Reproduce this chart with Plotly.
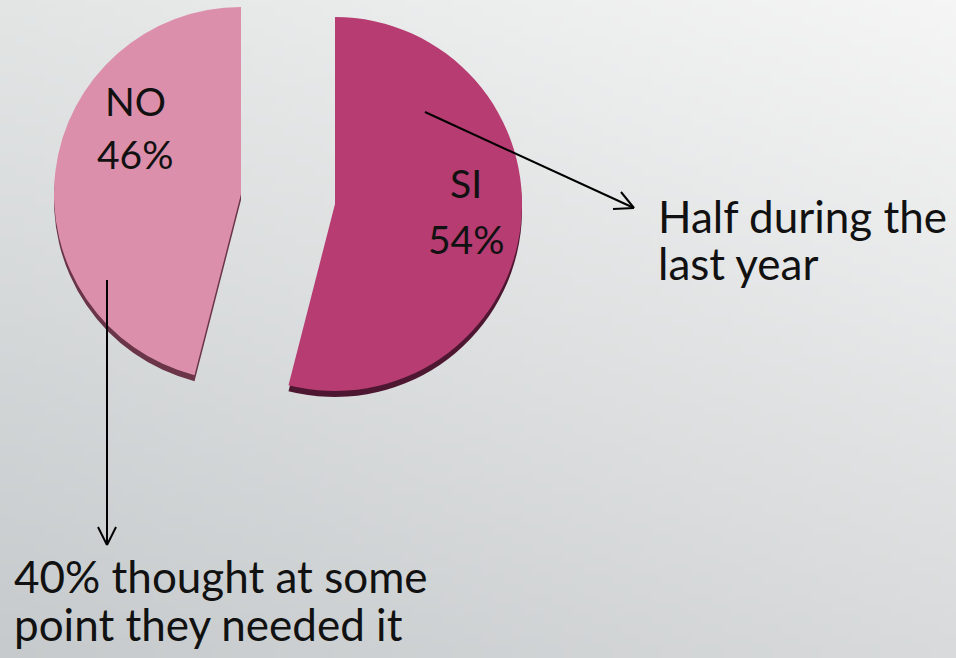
import base64
import struct
import zlib

import plotly.graph_objects as go

# ---------------- data ----------------
labels = ["SI", "NO"]
values = [54, 46]
slice_colors = ["#B63C72", "#DC8FAB"]
shadow_colors = ["#4E1731", "#6A3547"]
note_right_lines = ["Half during the", "last year"]
note_bottom_lines = ["40% thought at some", "point they needed it"]

# ---------------- layout helpers ----------------
W, H = 956, 658
R = 187                     # pie radius in px
centers = {"SI": (335, 204), "NO": (241, 194)}   # exploded slice vertices (px)
SHADOW = 6                  # px depth of the 3D edge
FONT = "Lato"


def px(x, y):
    return x / W, 1 - y / H


def domain(cx, cy, r):
    return dict(x=[(cx - r) / W, (cx + r) / W],
                y=[(H - (cy + r)) / H, (H - (cy - r)) / H])


def gradient_png(w, h, tl, tr, bl, br):
    rows = []
    for j in range(h):
        v = j / (h - 1)
        row = bytearray([0])
        for i in range(w):
            u = i / (w - 1)
            for k in range(3):
                c = (tl[k] * (1 - u) * (1 - v) + tr[k] * u * (1 - v)
                     + bl[k] * (1 - u) * v + br[k] * u * v)
                row.append(int(round(c)))
        rows.append(bytes(row))
    raw = b"".join(rows)

    def chunk(tag, data):
        c = struct.pack(">I", len(data)) + tag + data
        return c + struct.pack(">I", zlib.crc32(tag + data) & 0xFFFFFFFF)

    png = b"\x89PNG\r\n\x1a\n"
    png += chunk(b"IHDR", struct.pack(">IIBBBBB", w, h, 8, 2, 0, 0, 0))
    png += chunk(b"IDAT", zlib.compress(raw, 9))
    png += chunk(b"IEND", b"")
    return "data:image/png;base64," + base64.b64encode(png).decode()


bg = gradient_png(96, 66, (227, 229, 229), (245, 245, 245),
                  (198, 202, 204), (216, 218, 219))

fig = go.Figure()

# shadows first (3D depth), then the slices
for layer in ("shadow", "main"):
    for i, lab in enumerate(labels):
        cx, cy = centers[lab]
        if layer == "shadow":
            cy += SHADOW
            col = shadow_colors[i]
        else:
            col = slice_colors[i]
        colors = [col if j == i else "rgba(0,0,0,0)" for j in range(len(labels))]
        fig.add_trace(go.Pie(
            labels=labels, values=values, sort=False,
            direction="clockwise", rotation=0,
            marker=dict(colors=colors, line=dict(width=0)),
            textinfo="none", hoverinfo="skip", showlegend=False,
            domain=domain(cx, cy, R),
        ))

annotations = []


def text_line(s, x, baseline, size, xanchor):
    top = baseline - (1.05 * size + 1)
    ax, ay = px(x, top)
    annotations.append(dict(
        text=s, x=ax, y=ay, xref="paper", yref="paper",
        xanchor=xanchor, yanchor="top", align=xanchor,
        showarrow=False, font=dict(family=FONT, size=size, color="#111111")))


# slice labels: (center x, baseline of name, baseline of percentage)
label_pos = {"SI": (466, 200, 256), "NO": (135, 118, 171)}
for lab, val in zip(labels, values):
    cx, b1, b2 = label_pos[lab]
    text_line(lab, cx, b1, 39, "center")
    text_line(f"{val}%", cx, b2, 39, "center")

for line, base in zip(note_right_lines, (235, 282)):
    text_line(line, 656, base, 44, "left")
for line, base in zip(note_bottom_lines, (595, 643)):
    text_line(line, 12, base, 44, "left")

# arrows (line + open V head)
shapes = []


def seg(x0, y0, x1, y1):
    a, b = px(x0, y0)
    c, d = px(x1, y1)
    shapes.append(dict(type="line", xref="paper", yref="paper",
                       x0=a, y0=b, x1=c, y1=d,
                       line=dict(color="#000000", width=2)))


seg(425, 112, 634, 208)
seg(634, 208, 621, 192)
seg(634, 208, 613, 209)
seg(107, 280, 107, 545)
seg(107, 545, 98, 527)
seg(107, 545, 116, 527)

fig.update_layout(
    width=W, height=H,
    margin=dict(l=0, r=0, t=0, b=0),
    paper_bgcolor="#e0e2e3",
    plot_bgcolor="rgba(0,0,0,0)",
    annotations=annotations,
    shapes=shapes,
    images=[dict(source=bg, xref="paper", yref="paper", x=0, y=1,
                 sizex=1, sizey=1, sizing="stretch", layer="below",
                 xanchor="left", yanchor="top")],
)

fig.write_html("out.html",
               config={"displayModeBar": False},
               post_script="document.body.style.margin='0';"
                           "document.body.style.overflow='hidden';")
